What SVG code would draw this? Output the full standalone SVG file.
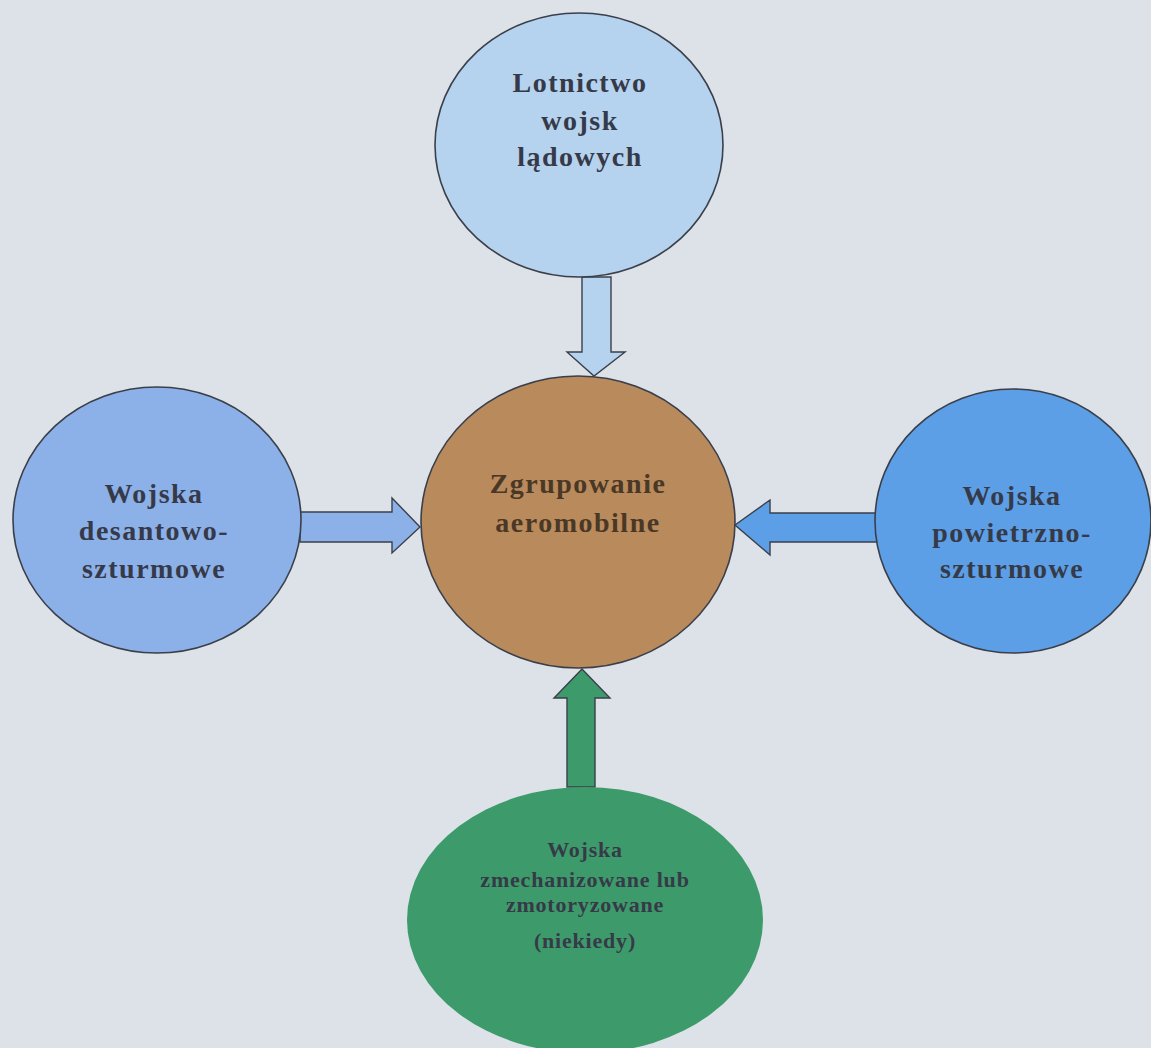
<svg xmlns="http://www.w3.org/2000/svg" width="1151" height="1048" viewBox="0 0 1151 1048">
<style>
.node{stroke:#3a3f4a;stroke-width:1.6}
.arr{stroke:#3a3f4a;stroke-width:1.4;stroke-linejoin:miter}
.t{font-family:"Liberation Serif","Times New Roman",serif;font-weight:bold;text-anchor:middle;fill:#363a48;letter-spacing:1.5px}
.big{font-size:28px}
.small{font-size:22px;letter-spacing:0.8px}
</style>
<rect x="0" y="0" width="1151" height="1048" fill="#dde2e8"/>
<g id="connectors">
<path class="arr" fill="#b5d2ee" d="M582,277 L611,277 L611,352 L625,352 L594,376 L567,352 L582,352 Z"/>
<path class="arr" fill="#8cb0e8" d="M300,512 L392,512 L392,498 L420,527 L392,553 L392,542 L300,542 Z"/>
<path class="arr" fill="#5c9fe6" d="M877,513 L770,513 L770,500 L735,525 L770,555 L770,542 L877,542 Z"/>
<path class="arr" fill="#3d9a6a" d="M567,787 L567,698 L554,698 L582,669 L610,698 L595,698 L595,787 Z"/>
</g>
<g id="node-lotnictwo">
<ellipse class="node" cx="579" cy="145" rx="144" ry="132" fill="#b5d2ee"/>
<text class="t big" x="580" y="92">Lotnictwo</text>
<text class="t big" x="580" y="130">wojsk</text>
<text class="t big" x="580" y="166">lądowych</text>
</g>
<g id="node-zgrupowanie">
<ellipse class="node" cx="578" cy="522" rx="157" ry="146" fill="#b98a5c"/>
<text class="t big" x="578" y="493" fill="#4a3826" style="fill:#4a3826">Zgrupowanie</text>
<text class="t big" x="578" y="532" style="fill:#4a3826">aeromobilne</text>
</g>
<g id="node-desantowo">
<ellipse class="node" cx="157" cy="520" rx="144" ry="133" fill="#8cb0e8"/>
<text class="t big" x="154" y="503">Wojska</text>
<text class="t big" x="154" y="540">desantowo-</text>
<text class="t big" x="154" y="578">szturmowe</text>
</g>
<g id="node-powietrzno">
<ellipse class="node" cx="1013" cy="521" rx="138" ry="132" fill="#5c9fe6"/>
<text class="t big" x="1012" y="505">Wojska</text>
<text class="t big" x="1012" y="542">powietrzno-</text>
<text class="t big" x="1012" y="578">szturmowe</text>
</g>
<g id="node-zmechanizowane">
<ellipse cx="585" cy="920" rx="178" ry="133" fill="#3d9a6a"/>
<text class="t small" x="585" y="857">Wojska</text>
<text class="t small" x="585" y="887">zmechanizowane lub</text>
<text class="t small" x="585" y="912">zmotoryzowane</text>
<text class="t small" x="585" y="948">(niekiedy)</text>
</g>
</svg>
